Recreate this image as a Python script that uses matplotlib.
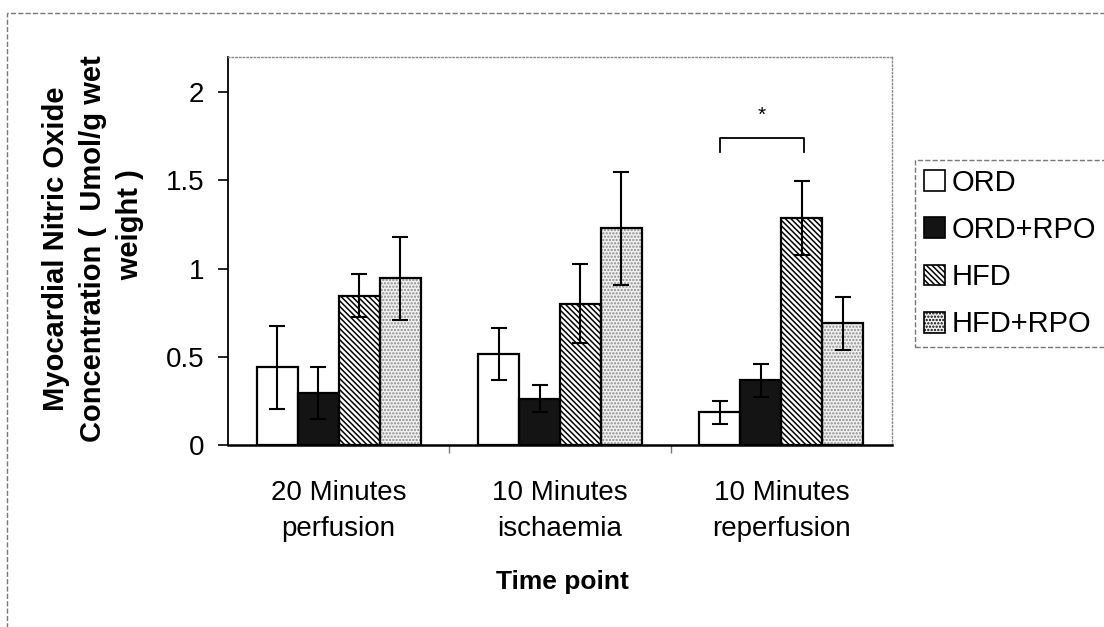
import numpy as np
import matplotlib
matplotlib.use('Agg')
import matplotlib.pyplot as plt
from matplotlib.patches import Rectangle, Patch

plt.rcParams['font.family'] = ['Liberation Sans', 'DejaVu Sans']
plt.rcParams['hatch.linewidth'] = 1.1

# Data
timepoints = ['20 Minutes\nperfusion', '10 Minutes\nischaemia', '10 Minutes\nreperfusion']
groups = ['ORD', 'ORD+RPO', 'HFD', 'HFD+RPO']
means = {
    'ORD':     [0.44, 0.515, 0.185],
    'ORD+RPO': [0.295, 0.263, 0.366],
    'HFD':     [0.847, 0.80, 1.286],
    'HFD+RPO': [0.945, 1.23, 0.69],
}
errors = {
    'ORD':     [0.235, 0.148, 0.064],
    'ORD+RPO': [0.145, 0.075, 0.094],
    'HFD':     [0.12, 0.224, 0.21],
    'HFD+RPO': [0.235, 0.32, 0.15],
}
yticks = [0, 0.5, 1, 1.5, 2]
ytick_labels = ['0', '0.5', '1', '1.5', '2']

# fill, hatch, hatch colour
styles = {
    'ORD':     ('white', None, 'black'),
    'ORD+RPO': ('#141414', None, 'black'),
    'HFD':     ('white', '\\\\\\\\\\\\', 'black'),
    'HFD+RPO': ('#f2f2f2', '.....', '#8a8a8a'),
}

fig = plt.figure(figsize=(11.04, 6.27), dpi=100)
ax = fig.add_axes([0.2065, 0.2903, 0.6015, 0.6187])

x = np.arange(len(timepoints))
width = 0.185
handles = []
for i, g in enumerate(groups):
    pos = x + (i - 1.5) * width
    fc, hatch, hc = styles[g]
    # fill + hatch first (hatch takes edge colour), then black outline
    ax.bar(pos, means[g], width, facecolor=fc, edgecolor=hc, hatch=hatch,
           linewidth=0, zorder=2)
    ax.bar(pos, means[g], width, fill=False, edgecolor='black', linewidth=1.6, zorder=2.5)
    ax.errorbar(pos, means[g], yerr=errors[g], fmt='none', ecolor='black',
                elinewidth=1.5, capsize=6, capthick=1.5, zorder=3)
    handles.append(Patch(facecolor=fc, edgecolor=hc, hatch=hatch, linewidth=0))

# significance bracket on reperfusion
x0 = x[2] - 1.5 * width
x1 = x[2] + 0.55 * width
ax.plot([x0, x0, x1, x1], [1.66, 1.74, 1.74, 1.66], color='black', lw=1.3, zorder=3)
ax.text((x0 + x1) / 2, 1.87, '*', ha='center', va='center', fontsize=15)

ax.set_xlim(-0.5, 2.5)
ax.set_ylim(0, 2.2)
ax.set_yticks(yticks)
ax.set_yticklabels(ytick_labels, fontsize=20)
ax.set_xticks([0.5, 1.5], minor=False)
ax.set_xticklabels([])
ax.set_xticks(x, minor=True)
ax.set_xticklabels(timepoints, minor=True, fontsize=20, linespacing=1.5)
ax.tick_params(axis='x', which='minor', length=0, pad=25)
ax.tick_params(axis='x', which='major', length=6, width=1, direction='out', color='#777777')
ax.tick_params(axis='y', length=7, width=1.2, direction='out', pad=10)

ax.spines['left'].set_linewidth(1.3)
ax.spines['bottom'].set_linewidth(1.8)
for s in ['top', 'right']:
    ax.spines[s].set_linestyle(':')
    ax.spines[s].set_color('#888888')
    ax.spines[s].set_linewidth(1.0)

fig.text(562 / 1104, 1 - 582 / 627, 'Time point', fontsize=19,
         fontweight='bold', ha='center', va='center')
fig.text(93 / 1104, 1 - 249 / 627,
         'Myocardial Nitric Oxide\nConcentration (  Umol/g wet\n      weight )',
         fontsize=21, fontweight='bold', rotation=90, ha='center', va='center',
         multialignment='center', linespacing=1.4)

leg = fig.legend(handles, groups, loc='upper left',
                 bbox_to_anchor=(915 / 1104, 1 - 160 / 627),
                 bbox_transform=fig.transFigure, fontsize=21,
                 frameon=True, fancybox=False, handlelength=0.72, handleheight=0.72,
                 handletextpad=0.24, labelspacing=0.66, borderpad=0.3,
                 borderaxespad=0)
for h in leg.legend_handles:
    h.set_edgecolor('black')
    h.set_linewidth(1.2)
leg.get_frame().set_edgecolor('#555555')
leg.get_frame().set_linestyle('--')
leg.get_frame().set_linewidth(1.0)

# outer dashed frame
fig.patches.append(Rectangle((7 / 1104, -0.05), 1.1, 1 - 13 / 627 + 0.05,
                             transform=fig.transFigure, fill=False,
                             edgecolor='#777777', linestyle='--', lw=1.0))

fig.savefig('out.png', dpi=100)
